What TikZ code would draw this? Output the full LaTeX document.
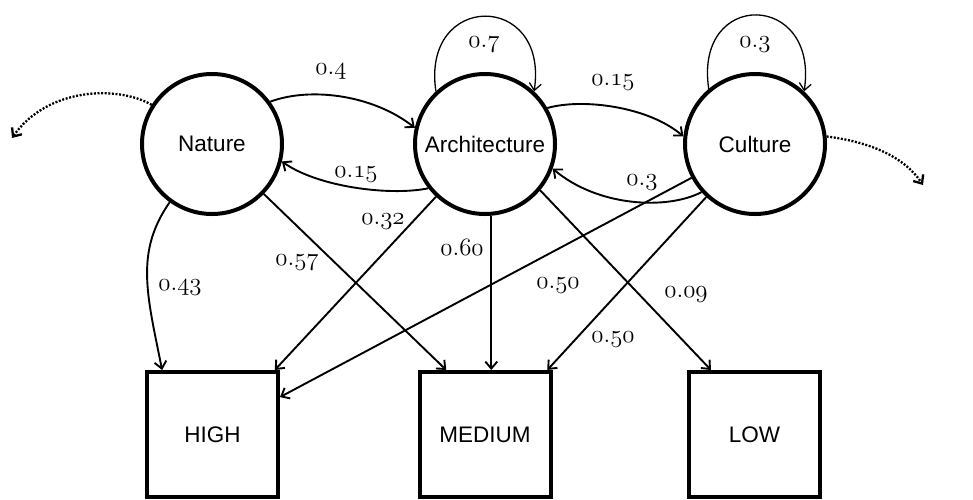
\documentclass[tikz,border=0pt]{standalone}
\usepackage[no-math]{fontspec}
\newfontfamily\arialf{Liberation Sans}
\usetikzlibrary{arrows.meta}
\newcommand{\olds}[1]{$\mathnormal{#1}$}
\tikzset{
  latent/.style={circle, draw, line width=4pt, minimum size=140pt, inner sep=0pt,
    font=\arialf\fontsize{22.5}{27}\selectfont},
  obs/.style={rectangle, draw, line width=4pt, minimum width=131pt, minimum height=125pt,
    inner sep=0pt, font=\arialf\fontsize{22.5}{27}\selectfont},
  edge/.style={line width=1.9pt, -{Straight Barb[length=7pt,width=12pt]}},
  loopedge/.style={line width=1.3pt, -{Straight Barb[length=7pt,width=12pt]}},
  dotedge/.style={line width=2.3pt, dash pattern=on 2pt off 1.6pt, -{Straight Barb[length=7pt,width=12pt]}},
  lab/.style={font=\fontsize{25}{30}\selectfont, text height=10.5pt, text depth=0pt, inner sep=0pt},
}
\begin{document}
\begin{tikzpicture}[x=1pt,y=-1pt]
\useasboundingbox (0,0) rectangle (973,499);
% latent nodes
\node[latent] (nat)  at (212,144) {Nature};
\node[latent] (arch) at (485,144) {Architecture};
\node[latent] (cul)  at (755,144) {Culture};
% observed boxes
\node[obs] (high) at (212.5,434.5) {HIGH};
\node[obs] (med)  at (485,434.5) {MEDIUM};
\node[obs] (low)  at (754.5,434.5) {LOW};
% free ends of the dotted arrows
\coordinate (nd) at (12,138);
\coordinate (cd) at (923,185);
% self loops
\draw[loopedge] (arch.133) .. controls +(-15,-100) and +(15,-100) .. (arch.47);
\draw[loopedge] (cul.130) .. controls +(-15,-100) and +(15,-100) .. (cul.47);
% curved links between latents
\draw[edge] (nat.36) .. controls +(40,-15) and +(-42,-33) .. (arch.167);
\draw[edge] (arch.218) .. controls +(-40,8) and +(35,25) .. (nat.346);
\draw[edge] (arch.30) .. controls +(35,-10) and +(-35,-30) .. (cul.174);
\draw[edge] (cul.222) .. controls +(-35,18) and +(45,38) .. (arch.340);
% links to boxes
\draw[edge] (nat.234) .. controls +(-35,50) and +(-15,-75) .. (high.128);
\draw[edge] (nat) -- (med.121);
\draw[edge] (arch) -- (high.46);
\draw[edge] (arch.275) -- (arch.275 |- med.north);
\draw[edge] (arch.-40) -- (low.124);
\draw[edge] (cul) -- (high.29);
\draw[edge] (cul) -- (med.46);
% dotted arrows
\draw[dotedge] (nat.147) .. controls +(-35,-20) and +(35,-50) .. (nd);
\draw[dotedge] (cul.6) .. controls +(40,5) and +(-20,-30) .. (cd);
% labels
\node[lab] (l1)  at (331,69)  {\olds{0.4}};
\node[lab] (l2)  at (484,42)  {\olds{0.7}};
\node[lab] (l3)  at (613,80)  {\olds{0.15}};
\node[lab] (l4)  at (755,42)  {\olds{0.3}};
\node[lab] (l5)  at (356,172) {\olds{0.15}};
\node[lab] (l6)  at (642,180) {\olds{0.3}};
\node[lab] (l7)  at (383,219) {\olds{0.32}};
\node[lab] (l8)  at (297,260) {\olds{0.57}};
\node[lab] (l9)  at (180,285) {\olds{0.43}};
\node[lab] (l10) at (462,250) {\olds{0.60}};
\node[lab] (l11) at (558,283) {\olds{0.50}};
\node[lab] (l12) at (686,292) {\olds{0.09}};
\node[lab] (l13) at (613,337) {\olds{0.50}};
\end{tikzpicture}
\end{document}
